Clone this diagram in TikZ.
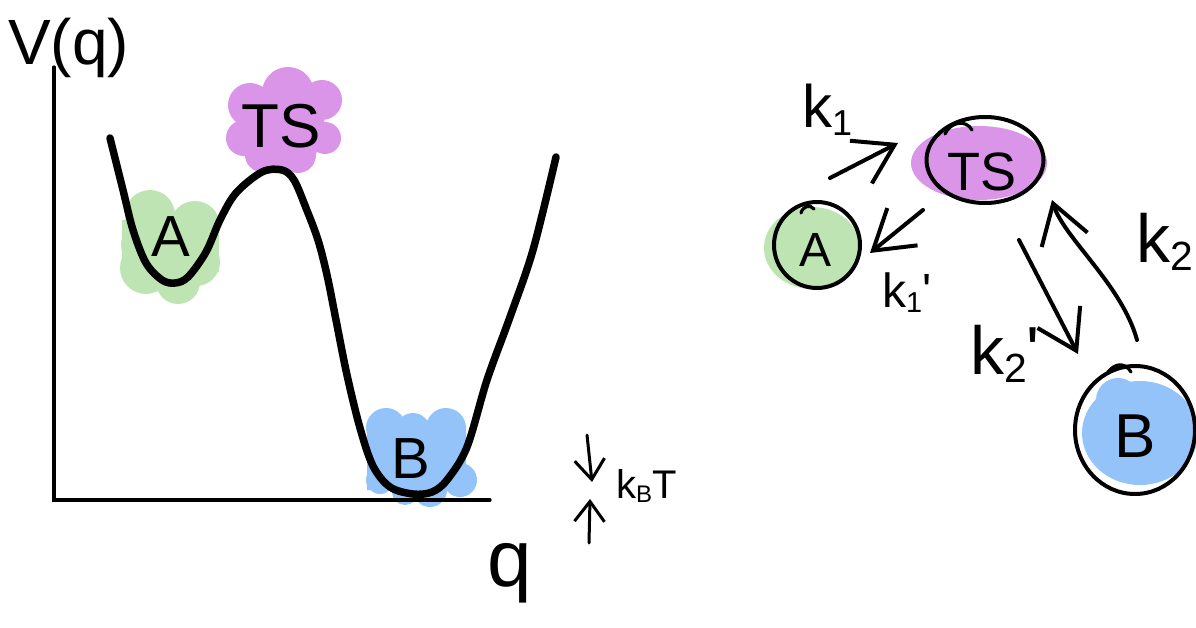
\documentclass[tikz,border=0pt]{standalone}
\usepackage{fontspec}
\usepackage{graphicx}
\setmainfont{Liberation Sans}
\usetikzlibrary{arrows.meta,shapes.geometric}
\definecolor{blobgreen}{HTML}{BEE4B4}
\definecolor{blobpurple}{HTML}{DA94E8}
\definecolor{blobblue}{HTML}{94C3FA}
\newcommand{\lsub}[1]{\raisebox{-0.12em}{\scalebox{0.6}{#1}}}
\begin{document}
\begin{tikzpicture}[x=1pt,y=-1pt,
  axisline/.style={line width=3.2pt, line cap=round},
  potential/.style={line width=7.5pt, line cap=round, line join=round},
  ring/.style={draw, ellipse, line width=4pt, inner sep=0pt},
  hand/.style={inner sep=0pt, font=\fontsize{#1}{#1}\selectfont},
  conn/.style={line width=4pt, line cap=round, -{Straight Barb[length=38pt,width=48pt,line width=4pt]}},
  tick/.style={line width=3pt, line cap=round, -{Straight Barb[length=20pt,width=30pt,line width=3pt]}},
  stroke/.style={line width=3.2pt, line cap=round}
]
\useasboundingbox (0,0) rectangle (1196,628);

% ---------- left: potential energy plot ----------
% blobs
\fill[blobgreen] (122,220) rectangle (219,272)
  (150,215) circle (25pt) (195,226) circle (25pt) (146,268) circle (26pt)
  (196,262) circle (24pt) (178,282) circle (22pt) (148,245) circle (27pt);
\fill[blobpurple] (288,93) circle (26pt) (322,100) circle (20pt) (250,105) circle (22pt)
  (244,138) circle (18pt) (262,155) circle (17pt) (298,155) circle (18pt)
  (325,138) circle (16pt) (285,128) circle (40pt);
\fill[blobblue] (367,425) rectangle (466,490)
  (386,428) circle (20pt) (413,430) circle (17pt) (446,428) circle (20pt)
  (460,480) circle (17pt) (430,490) circle (17pt) (380,480) circle (14pt) (405,492) circle (13pt);

% axes
\coordinate (origin) at (54,500);
\coordinate (ytop) at (54,67);
\coordinate (xend) at (490,500);
\draw[axisline] (ytop) -- (origin) -- (xend);

% potential curve
\draw[potential] plot[smooth, tension=0.55] coordinates {
  (110,138) (123,190) (133,230) (146,263) (162,280) (175,283) (188,277)
  (206,252) (220,220) (236,193) (262,172) (282,170) (294,180) (306,208)
  (318,240) (327,275) (336,320) (347,375) (360,428) (373,466) (390,487) (413,494)
  (432,492) (447,480) (467,447) (487,380) (510,317) (533,250) (556,157)};

% labels
\node[hand=64, anchor=base west] (vq) at (8,65) {V(q)};
\node[hand=62, anchor=base] (tsL) at (281,148) {TS};
\node[hand=58, anchor=base] (aL) at (171,257) {A};
\node[hand=58, anchor=base] (bL) at (411,478) {B};
\node[hand=80, anchor=base] (qL) at (510,586) {q};

% k_B T marker
\coordinate (dnS) at (587,435);
\coordinate (dnE) at (592,482);
\coordinate (upS) at (589,543);
\coordinate (upE) at (590,499);
\draw[tick] (dnS) -- (dnE);
\draw[tick] (upS) -- (upE);
\node[hand=40, anchor=base west] (kbt) at (616,498) {k\lsub{B}T};

% ---------- right: kinetic scheme ----------
\fill[blobpurple] (979,163) ellipse (68pt and 37pt);
\fill[blobgreen] (812,248) ellipse (48pt and 41pt);
\fill[blobblue] (1140,433) ellipse (58pt and 52pt);
\fill[blobblue] (1118,400) circle (22pt);

\node[ring, minimum width=117pt, minimum height=86pt] (TS) at (985,160) {};
\node[ring, minimum width=86pt, minimum height=86pt] (A) at (817,245) {};
\node[ring, minimum width=120pt, minimum height=128pt] (B) at (1135,430) {};

\node[hand=54, anchor=base] (tsT) at (TS.center) [xshift=-3pt, yshift=-31pt] {TS};
\node[hand=48, anchor=base] (aT) at (A.center) [xshift=-2pt, yshift=-21pt] {A};
\node[hand=62, anchor=base] (bT) at (B.center) [yshift=-27pt] {B};

% pen-start overlaps
\draw[stroke] (945,134) .. controls (950,122) and (966,119) .. (972,130);
\draw[stroke] (801,213) .. controls (803,206) and (810,204) .. (814,209);
\draw[stroke] (1108,372) .. controls (1115,363) and (1125,362) .. (1131,372);

% arrows
\coordinate (a1s) at (830,178);
\coordinate (a1e) at (898,143);
\coordinate (a2s) at (923,210);
\coordinate (a2e) at (870,253);
\coordinate (a3s) at (1019,240);
\coordinate (a3e) at (1078,354);
\coordinate (a4s) at (1137,340);
\coordinate (a4e) at (1052,200);
\draw[conn] (a1s) -- (a1e);
\draw[conn] (a2s) -- (a2e);
\draw[conn] (a3s) -- (a3e);
\draw[conn] (a4s) .. controls (1122,285) and (1064,238) .. (a4e);

% rate labels
\node[hand=60, anchor=base west] (k1) at (802,128) {k\lsub{1}};
\node[hand=48, anchor=base west] (k1p) at (882,307) {k\lsub{1}\textquotesingle};
\node[hand=68, anchor=base west] (k2) at (1136,262) {k\lsub{2}};
\node[hand=68, anchor=base west] (k2p) at (970,374) {k\lsub{2}\textquotesingle};
\end{tikzpicture}
\end{document}
